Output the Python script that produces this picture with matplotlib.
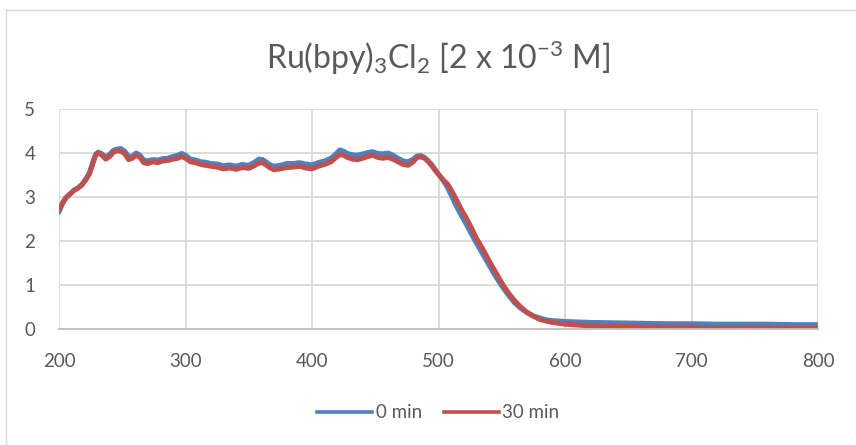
import matplotlib
matplotlib.use("Agg")
import matplotlib.pyplot as plt
from matplotlib.lines import Line2D

plt.rcParams['font.family'] = ['Lato', 'DejaVu Sans']
plt.rcParams['mathtext.fontset'] = 'custom'
plt.rcParams['mathtext.rm'] = 'Lato'
plt.rcParams['mathtext.it'] = 'Lato:italic'
plt.rcParams['mathtext.bf'] = 'Lato:bold'

wavelength = [200, 203, 206, 209, 212, 215, 218, 221, 224, 227, 229, 231, 234, 237, 240,
              243, 246, 249, 252, 255, 258, 261, 264, 267, 270, 274, 278, 282, 286, 290,
              294, 297, 300, 304, 308, 312, 316, 320, 325, 330, 335, 340, 345, 350, 355,
              358, 361, 364, 367, 370, 375, 380, 385, 390, 395, 400, 405, 410, 415, 419,
              422, 425, 428, 432, 436, 440, 444, 448, 452, 456, 460, 464, 468, 472, 476,
              480, 483, 486, 489, 492, 495, 498, 501, 504, 507, 510, 514, 518, 522, 526,
              530, 535, 540, 545, 550, 555, 560, 565, 570, 575, 580, 585, 590, 595, 600,
              610, 620, 640, 660, 680, 700, 720, 740, 760, 780, 800]

abs_0min = [2.66, 2.86, 3.00, 3.08, 3.16, 3.21, 3.28, 3.40, 3.55, 3.82, 3.97, 4.02, 3.98, 3.90, 3.97,
            4.06, 4.09, 4.10, 4.04, 3.92, 3.93, 4.00, 3.95, 3.84, 3.82, 3.85, 3.84, 3.87, 3.88, 3.92,
            3.95, 3.99, 3.95, 3.86, 3.84, 3.80, 3.79, 3.76, 3.75, 3.71, 3.73, 3.70, 3.74, 3.72, 3.80,
            3.86, 3.85, 3.79, 3.73, 3.70, 3.72, 3.76, 3.76, 3.78, 3.75, 3.73, 3.78, 3.82, 3.88, 3.98,
            4.07, 4.04, 3.99, 3.96, 3.95, 3.98, 4.01, 4.03, 3.99, 3.98, 4.00, 3.95, 3.88, 3.82, 3.80,
            3.86, 3.93, 3.94, 3.90, 3.82, 3.72, 3.60, 3.48, 3.36, 3.22, 3.04, 2.80, 2.58, 2.38, 2.16,
            1.95, 1.70, 1.45, 1.20, 0.98, 0.78, 0.60, 0.47, 0.37, 0.30, 0.25, 0.21, 0.19, 0.18, 0.17,
            0.16, 0.15, 0.14, 0.13, 0.12, 0.12, 0.11, 0.11, 0.11, 0.10, 0.10]

abs_30min = [2.72, 2.88, 3.00, 3.07, 3.15, 3.20, 3.27, 3.38, 3.52, 3.78, 3.95, 4.00, 3.95, 3.86, 3.92,
             4.02, 4.05, 4.04, 3.98, 3.85, 3.88, 3.95, 3.90, 3.78, 3.76, 3.80, 3.78, 3.82, 3.83, 3.86,
             3.88, 3.92, 3.88, 3.80, 3.78, 3.74, 3.72, 3.70, 3.68, 3.64, 3.66, 3.63, 3.67, 3.65, 3.72,
             3.77, 3.78, 3.72, 3.66, 3.62, 3.64, 3.67, 3.68, 3.70, 3.66, 3.64, 3.70, 3.74, 3.80, 3.90,
             3.96, 3.95, 3.90, 3.86, 3.85, 3.88, 3.92, 3.95, 3.90, 3.88, 3.90, 3.86, 3.80, 3.74, 3.72,
             3.80, 3.90, 3.91, 3.88, 3.80, 3.70, 3.58, 3.48, 3.38, 3.30, 3.16, 2.95, 2.72, 2.52, 2.30,
             2.06, 1.82, 1.55, 1.30, 1.05, 0.83, 0.65, 0.50, 0.38, 0.29, 0.22, 0.18, 0.15, 0.13, 0.11,
             0.09, 0.07, 0.06, 0.05, 0.04, 0.04, 0.03, 0.03, 0.02, 0.02, 0.02]

series_labels = ["0 min", "30 min"]
x_ticks = [200, 300, 400, 500, 600, 700, 800]
y_ticks = [0, 1, 2, 3, 4, 5]

BLUE = "#4F81BD"
RED = "#C0504D"
TEXT = "#595959"
GRID = "#D9D9D9"

W, H = 856, 445
fig = plt.figure(figsize=(W / 100, H / 100), dpi=100)
fig.patch.set_facecolor("white")

# chart-area frame (left and top edges)
fig.add_artist(Line2D([6 / W, 6 / W], [0, 1 - 10 / H], transform=fig.transFigure,
                      color=GRID, lw=1.0))
fig.add_artist(Line2D([6 / W, 1], [1 - 10 / H, 1 - 10 / H], transform=fig.transFigure,
                      color=GRID, lw=1.0))

left, right, top, bottom = 59, 818, 109, 329
ax = fig.add_axes([left / W, 1 - bottom / H, (right - left) / W, (bottom - top) / H])
ax.set_xlim(200, 800)
ax.set_ylim(0, 5)
ax.set_xticks(x_ticks)
ax.set_yticks(y_ticks)
ax.grid(True, color=GRID, lw=1.3)
ax.set_axisbelow(True)
for s in ["top", "right", "left"]:
    ax.spines[s].set_visible(False)
ax.spines["bottom"].set_color("#BFBFBF")
ax.spines["bottom"].set_linewidth(1.3)
ax.tick_params(length=0, labelsize=13.5, labelcolor=TEXT)
ax.tick_params(axis="y", pad=17)
ax.tick_params(axis="x", pad=17)

ax.plot(wavelength, abs_0min, color=BLUE, lw=3.6, solid_capstyle="round", label=series_labels[0])
ax.plot(wavelength, abs_30min, color=RED, lw=3.6, solid_capstyle="round", label=series_labels[1])

center_x = (left + right) / 2 / W
fig.text(center_x, 1 - 58 / H,
         r"Ru(bpy)$_\mathregular{3}$Cl$_\mathregular{2}$ [2 x 10$^\mathregular{-3}$ M]",
         ha="center", va="center", fontsize=23, color=TEXT, fontweight="normal")

handles = [Line2D([], [], color=BLUE, lw=2.6), Line2D([], [], color=RED, lw=2.6)]
fig.legend(handles, series_labels, loc="center", bbox_to_anchor=(center_x, 1 - 413 / H),
           ncol=2, frameon=False, fontsize=13.5, labelcolor=TEXT, handlelength=2.9,
           handletextpad=0.2, columnspacing=1.2)

fig.savefig("out.png", dpi=100)
